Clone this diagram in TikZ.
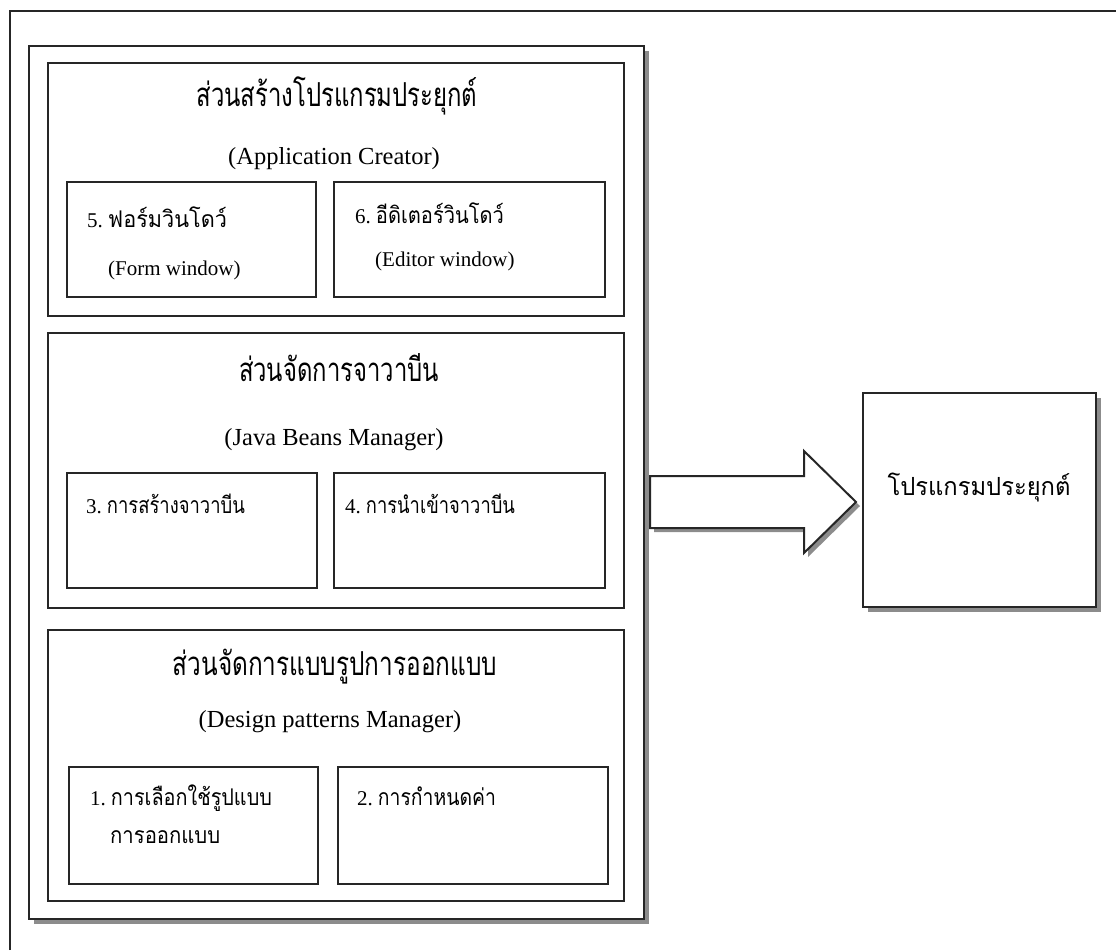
\documentclass[tikz,border=0pt]{standalone}
\usepackage{graphicx}
\usepackage{fontspec}
\setmainfont{Liberation Serif}
\newfontfamily\thaifont[Script=Thai]{Loma}
\usetikzlibrary{shadows}
% Thai text set at a given size and squeezed to a given width
\newcommand\thfit[3]{\resizebox{#1pt}{\height}{\fontsize{#2}{#2}\selectfont\thaifont #3}}
\newcommand\numsep{\hspace{5pt}}
\begin{document}
\begin{tikzpicture}[x=1pt,y=-1pt,
  frame/.style={draw=black!85,line width=2pt,fill=white,inner sep=0pt,anchor=north west},
  shadowed/.style={drop shadow={shadow xshift=5pt,shadow yshift=-5pt,fill=black!45,opacity=1}},
  title/.style={anchor=base,inner sep=0pt},
  subtitle/.style={anchor=base,inner sep=0pt,font=\fontsize{24.5}{28}\selectfont},
  item/.style={anchor=base west,inner sep=0pt,font=\fontsize{21}{24}\selectfont}]
\useasboundingbox (0,0) rectangle (1118,950);
% page frame
\draw[black!85,line width=2pt] (10,950) -- (10,11) -- (1116,11);

% outer container
\node[frame,shadowed,minimum width=615pt,minimum height=873pt] (outer) at (28,45) {};

% section: application creator
\node[frame,minimum width=576pt,minimum height=253pt] (secA) at (47,62) {};
\node[title] (secAth) at (337,106) {\thfit{281}{33}{ส่วนสร้างโปรแกรมประยุกต์}};
\node[subtitle] (secAen) at (334,164) {(Application Creator)};
\node[frame,minimum width=249pt,minimum height=115pt] (b5) at (66,181) {};
\node[item] (b5th) at (87,227) {5.\numsep\thfit{119}{23}{ฟอร์มวินโดว์}};
\node[item] (b5en) at (108,275) {(Form window)};
\node[frame,minimum width=271pt,minimum height=115pt] (b6) at (333,181) {};
\node[item] (b6th) at (355,223) {6.\numsep\thfit{128}{23}{อีดิเตอร์วินโดว์}};
\node[item] (b6en) at (375,266) {(Editor window)};

% section: java beans manager
\node[frame,minimum width=576pt,minimum height=275pt] (secB) at (47,332) {};
\node[title] (secBth) at (339,381) {\thfit{200}{33}{ส่วนจัดการจาวาบีน}};
\node[subtitle] (secBen) at (334,445) {(Java Beans Manager)};
\node[frame,minimum width=250pt,minimum height=115pt] (b3) at (66,472) {};
\node[item] (b3th) at (86,513) {3.\numsep\thfit{138}{23}{การสร้างจาวาบีน}};
\node[frame,minimum width=271pt,minimum height=115pt] (b4) at (333,472) {};
\node[item] (b4th) at (345,513) {4.\numsep\thfit{149}{23}{การนำเข้าจาวาบีน}};

% section: design patterns manager
\node[frame,minimum width=576pt,minimum height=271pt] (secC) at (47,629) {};
\node[title] (secCth) at (335,675) {\thfit{324}{33}{ส่วนจัดการแบบรูปการออกแบบ}};
\node[subtitle] (secCen) at (330,727) {(Design patterns Manager)};
\node[frame,minimum width=249pt,minimum height=117pt] (b1) at (68,766) {};
\node[item] (b1th) at (90,805) {1.\numsep\thfit{161}{23}{การเลือกใช้รูปแบบ}};
\node[item] (b1th2) at (110,843) {\thfit{110}{23}{การออกแบบ}};
\node[frame,minimum width=270pt,minimum height=117pt] (b2) at (337,766) {};
\node[item] (b2th) at (357,805) {2.\numsep\thfit{118}{23}{การกำหนดค่า}};

% result program
\node[frame,shadowed,minimum width=233pt,minimum height=214pt] (prog) at (862,392) {};
\node[title] (progth) at (979,495) {\thfit{183}{25}{โปรแกรมประยุกต์}};

% block arrow from container to program
\fill[black!45] (654,480) -- (808,480) -- (808,455) -- (860,506) -- (808,557) -- (808,532) -- (654,532) -- cycle;
\draw[black!85,line width=2pt,fill=white,line join=miter] (650,476) -- (804,476) -- (804,451) -- (856,502) -- (804,553) -- (804,528) -- (650,528) -- cycle;
\end{tikzpicture}
\end{document}
